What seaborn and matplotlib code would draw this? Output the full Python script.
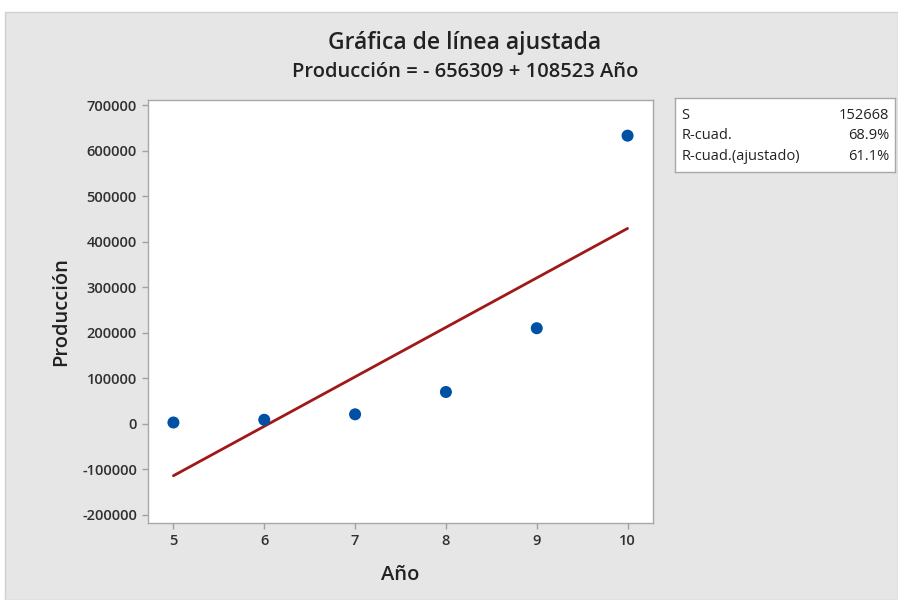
import numpy as np
import pandas as pd
import seaborn as sns
import matplotlib.pyplot as plt
from matplotlib.patches import Rectangle

# data
anio = [5, 6, 7, 8, 9, 10]
produccion = [3000, 9000, 21000, 70000, 210000, 632700]
stat_names = ["S", "R-cuad.", "R-cuad.(ajustado)"]
stat_values = ["152668", "68.9%", "61.1%"]
title = "Gráfica de línea ajustada"
subtitle = "Producción = - 656309 + 108523 Año"
y_ticks = [-200000, -100000, 0, 100000, 200000, 300000, 400000, 500000, 600000, 700000]
x_ticks = [5, 6, 7, 8, 9, 10]

df = pd.DataFrame({"Año": anio, "Producción": produccion})

sns.set_theme(style="white")
plt.rcParams["font.family"] = ["Open Sans", "DejaVu Sans"]

W, H = 898, 600
fig = plt.figure(figsize=(W / 100, H / 100), dpi=100)
fig.patch.set_facecolor("white")

# grey panel behind everything
fig.patches.append(Rectangle((5 / W, 0), (W - 5) / W, (H - 12) / H, transform=fig.transFigure,
                             facecolor="#e6e6e6", edgecolor="#d0d0d0", lw=1, zorder=-5))

ax = fig.add_axes([148 / W, 1 - 523 / H, (653 - 148) / W, (523 - 100) / H])
ax.set_facecolor("white")

sns.regplot(data=df, x="Año", y="Producción", ci=None, ax=ax,
            scatter_kws=dict(s=75, color="#0050a4", alpha=1, edgecolor="none", zorder=3),
            line_kws=dict(color="#a01818", lw=2))

ax.set_xlim(4.72, 10.28)
ax.set_ylim(-217600, 711000)
ax.set_xticks(x_ticks)
ax.set_yticks(y_ticks)
ax.set_xticklabels([str(v) for v in x_ticks])
ax.set_yticklabels([str(v) for v in y_ticks])
ax.tick_params(axis="both", which="both", direction="out", length=4, width=1, color="#a0a0a0",
               labelsize=10.5, labelcolor="#303030", pad=4, left=True, bottom=True)
for lab in ax.get_xticklabels() + ax.get_yticklabels():
    lab.set_fontweight("semibold")
for sp in ax.spines.values():
    sp.set_color("#a8a8a8")
    sp.set_linewidth(1)

ax.set_xlabel("Año", fontsize=14.5, color="#222222", fontweight="semibold", labelpad=12)
ax.set_ylabel("Producción", fontsize=14.5, color="#222222", fontweight="semibold", labelpad=8)

fig.text(465 / W, 1 - 43 / H, title, ha="center", va="center", fontsize=16.5,
         fontweight="semibold", color="#222222")
fig.text(465 / W, 1 - 72 / H, subtitle, ha="center", va="center", fontsize=14.5,
         fontweight="semibold", color="#222222")

# summary box on the right
box = fig.add_axes([675 / W, 1 - 172 / H, (895 - 675) / W, (172 - 98) / H])
box.set_facecolor("white")
box.set_xticks([])
box.set_yticks([])
for sp in box.spines.values():
    sp.set_color("#a8a8a8")
    sp.set_linewidth(1)
for i, (n, v) in enumerate(zip(stat_names, stat_values)):
    yy = 0.77 - i * 0.28
    box.text(0.03, yy, n, ha="left", va="center", fontsize=10.5, color="#222222", transform=box.transAxes)
    box.text(0.975, yy, v, ha="right", va="center", fontsize=10.5, color="#222222", transform=box.transAxes)

fig.savefig("out.png", dpi=100, facecolor=fig.get_facecolor())
